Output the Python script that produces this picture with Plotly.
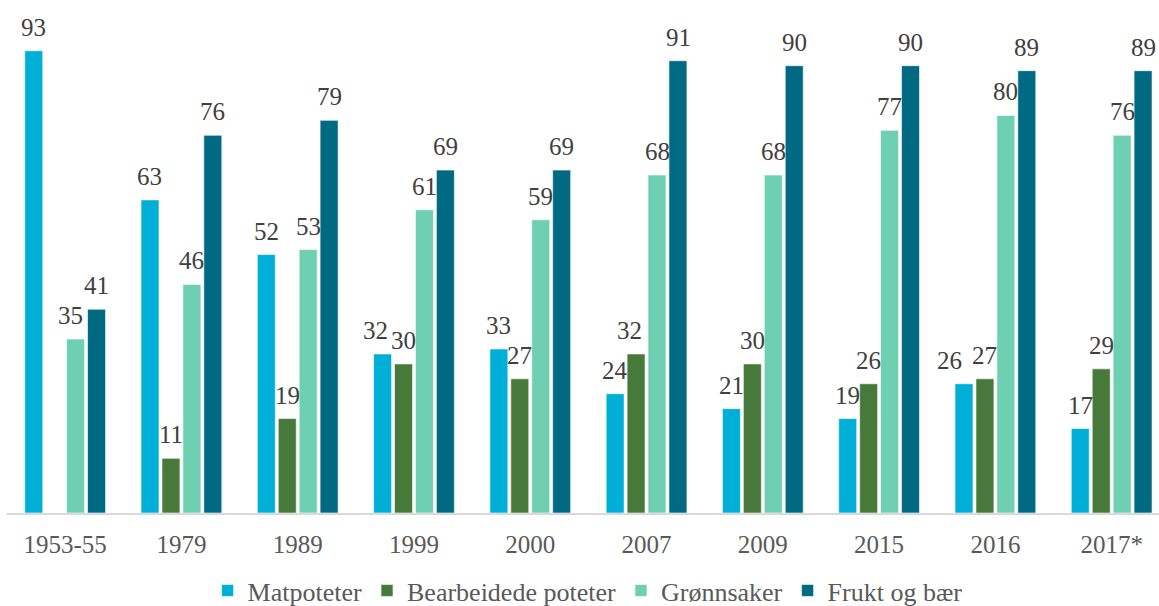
import plotly.graph_objects as go

categories = ["1953-55", "1979", "1989", "1999", "2000", "2007", "2009", "2015", "2016", "2017*"]
matpoteter = [93, 63, 52, 32, 33, 24, 21, 19, 26, 17]
bearbeidede = [None, 11, 19, 30, 27, 32, 30, 26, 27, 29]
gronnsaker = [35, 46, 53, 61, 59, 68, 68, 77, 80, 76]
frukt = [41, 76, 79, 69, 69, 91, 90, 90, 89, 89]

series = [
    ("Matpoteter", matpoteter, "#00AFD7"),
    ("Bearbeidede poteter", bearbeidede, "#477A3A"),
    ("Grønnsaker", gronnsaker, "#6FCFB1"),
    ("Frukt og bær", frukt, "#006A82"),
]

# label nudges (series index, category index) -> extra pixel shift, to avoid overlaps
label_nudge = {(2, 0): -5, (0, 3): -7, (1, 5): -7, (0, 8): -14}

FONT = "Liberation Serif"
fig = go.Figure()
annotations = []
for k, (name, vals, color) in enumerate(series):
    fig.add_trace(go.Bar(
        x=categories, y=vals, name=name,
        marker=dict(color=color, line=dict(color="white", width=0.6)),
    ))
    for i, v in enumerate(vals):
        if v is None:
            continue
        annotations.append(dict(
            x=i, y=v, text=str(v), showarrow=False,
            xref="x", yref="y", yanchor="bottom",
            xshift=(k - 1.5) * 21 + label_nudge.get((k, i), 0), yshift=8,
            font=dict(family=FONT, size=25, color="#404040"),
        ))

fig.update_layout(
    width=1159, height=606,
    margin=dict(l=7, r=0, t=16, b=93, autoexpand=False),
    paper_bgcolor="white", plot_bgcolor="white",
    barmode="group", bargap=0.28, bargroupgap=0.14,
    annotations=annotations,
    showlegend=True,
    legend=dict(orientation="h", x=0.504, xanchor="center", xref="paper",
                y=-0.156, yanchor="middle",
                font=dict(family=FONT, size=26, color="#595959"),
                itemwidth=30, traceorder="normal"),
    xaxis=dict(type="category", range=[-0.5, 9.407], showgrid=False, showline=True,
               linecolor="#D9D9D9", linewidth=2, ticks="", ticklabelstandoff=8,
               automargin=False,
               tickfont=dict(family=FONT, size=25, color="#595959")),
    yaxis=dict(range=[0, 100], visible=False, showgrid=False, zeroline=False),
)

fig.write_html("out.html", config={"displayModeBar": False},
               post_script="document.body.style.margin='0';document.body.style.overflow='hidden';")
